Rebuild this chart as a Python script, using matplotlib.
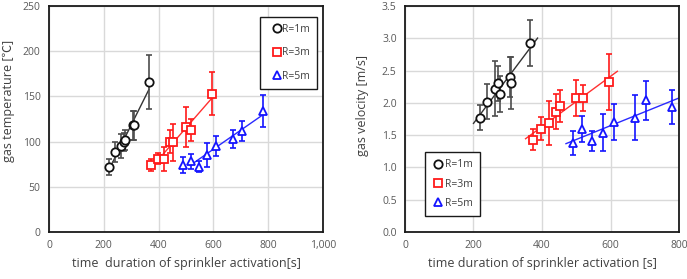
import numpy as np
import matplotlib.pyplot as plt

plt.rcParams['font.family'] = ['Open Sans', 'Noto Sans CJK KR', 'DejaVu Sans']

# dados
x_r1 = [220, 240, 263, 272, 278, 308, 310, 365]
x_r3 = [374, 398, 420, 441, 453, 500, 519, 595]
x_r5 = [490, 518, 546, 578, 610, 671, 703, 780]

temp_r1 = [72, 88, 95, 100, 102, 118, 118, 166]
temp_r1_err = [9, 11, 13, 10, 11, 16, 16, 30]
temp_r3 = [74, 81, 81, 100, 99, 116, 113, 153]
temp_r3_err = [7, 6, 13, 13, 20, 22, 12, 24]
temp_r5 = [74, 78, 72, 85, 95, 103, 112, 134]
temp_r5_err = [9, 8, 6, 13, 11, 10, 11, 18]

vel_r1 = [1.77, 2.02, 2.22, 2.30, 2.14, 2.40, 2.31, 2.93]
vel_r1_err = [0.19, 0.27, 0.43, 0.27, 0.28, 0.31, 0.40, 0.36]
vel_r3 = [1.43, 1.60, 1.69, 1.86, 1.95, 2.08, 2.07, 2.32]
vel_r3_err = [0.16, 0.18, 0.34, 0.27, 0.25, 0.28, 0.20, 0.43]
vel_r5 = [1.38, 1.60, 1.41, 1.54, 1.70, 1.77, 2.04, 1.94]
vel_r5_err = [0.18, 0.20, 0.16, 0.28, 0.28, 0.35, 0.30, 0.26]

labels = ['R=1m', 'R=3m', 'R=5m']
markers = ['o', 's', '^']
colors = ['#111111', '#ff1a1a', '#1414ff']
err_colors = ['#4d4d4d', '#ff1a1a', '#1414ff']
line_colors = ['#333333', '#ff3030', '#2a2aff']
msizes = [6, 5.5, 5.5]

# faixas das linhas de tendência
trend_temp = [(220, 365), (378, 595), (515, 780)]
trend_vel = [(200, 387), (352, 620), (470, 800)]

fig = plt.figure(figsize=(6.87, 2.79), dpi=100)
ax1 = fig.add_axes([0.0713, 0.1685, 0.3989, 0.81])
ax2 = fig.add_axes([0.5895, 0.1685, 0.3989, 0.81])

tick_color = '#595959'
label_color = '#404040'


def desenhar(ax, xs, ys, errs, faixas):
    for i in range(3):
        a, b = np.polyfit(xs[i], ys[i], 1)
        xx = np.array(faixas[i])
        ax.plot(xx, a * xx + b, color=line_colors[i], lw=1.0, zorder=2)
        ax.errorbar(xs[i], ys[i], yerr=errs[i], fmt='none', ecolor=err_colors[i],
                    elinewidth=1.2, capsize=2.5, capthick=1.2, zorder=3)
        ax.plot(xs[i], ys[i], linestyle='none', marker=markers[i], ms=msizes[i],
                mfc='white', mec=colors[i], mew=1.3, label=labels[i], zorder=4)
    ax.grid(True, color='#d9d9d9', lw=1.0)
    ax.set_axisbelow(True)
    for s in ax.spines.values():
        s.set_color('#1a1a1a')
        s.set_linewidth(1.3)
    ax.tick_params(length=0, labelsize=7.5, colors=tick_color, pad=6)


xs = [x_r1, x_r3, x_r5]
desenhar(ax1, xs, [temp_r1, temp_r3, temp_r5],
         [temp_r1_err, temp_r3_err, temp_r5_err], trend_temp)
desenhar(ax2, xs, [vel_r1, vel_r3, vel_r5],
         [vel_r1_err, vel_r3_err, vel_r5_err], trend_vel)

ax1.set_xlim(0, 1000)
ax1.set_ylim(0, 250)
ax1.set_xticks(range(0, 1001, 200))
ax1.set_xticklabels(['0', '200', '400', '600', '800', '1,000'])
ax1.set_yticks(range(0, 251, 50))
ax1.set_xlabel('time  duration of sprinkler activation[s]', fontsize=9, color=label_color)
ax1.set_ylabel('gas temperature [℃]', fontsize=9, color=label_color)
ax1.yaxis.set_label_coords(-0.125, 0.58)

ax2.set_xlim(0, 800)
ax2.set_ylim(0, 3.5)
ax2.set_xticks(range(0, 801, 200))
ax2.set_yticks(np.arange(0, 3.51, 0.5))
ax2.yaxis.set_major_formatter(plt.FormatStrFormatter('%.1f'))
ax2.set_xlabel('time duration of sprinkler activation [s]', fontsize=9, color=label_color)
ax2.set_ylabel('gas velocity [m/s]', fontsize=9, color=label_color)
ax2.yaxis.set_label_coords(-0.131, 0.56)

for ax, loc, anchor, ls, bp, hl, htp in [
        (ax1, 'upper right', (0.978, 0.951), 1.2, 0.66, 1.9, -0.45),
        (ax2, 'lower left', (0.073, 0.071), 0.8, 0.68, 1.1, 0.16)]:
    leg = ax.legend(loc=loc, bbox_to_anchor=anchor, borderaxespad=0,
                    fontsize=7.5, labelspacing=ls, handletextpad=htp,
                    handlelength=hl, borderpad=bp, fancybox=False,
                    framealpha=1, edgecolor='#1a1a1a')
    leg.get_frame().set_linewidth(1.0)
    for t in leg.get_texts():
        t.set_color('#404040')

fig.savefig('out.png', dpi=100)
